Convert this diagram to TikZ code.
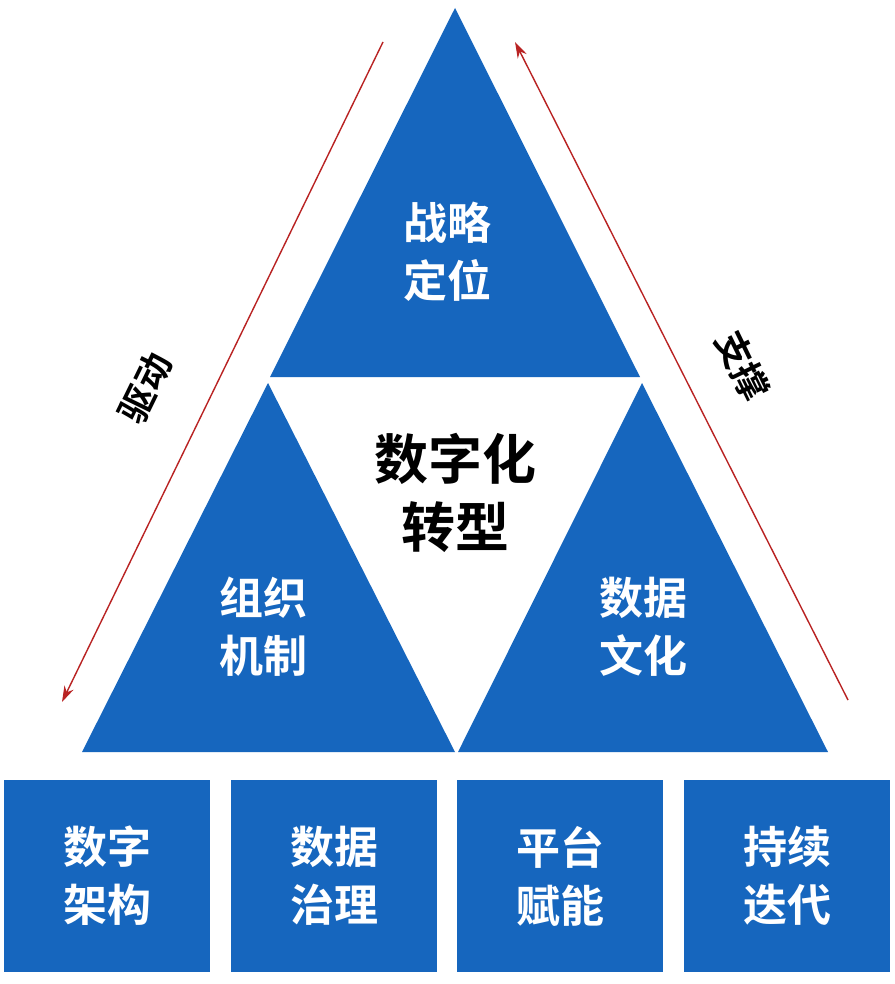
\documentclass[tikz,border=0pt]{standalone}
\usepackage{fontspec}
\newfontfamily\cjk{Noto Sans CJK SC}[BoldFont={Noto Sans CJK SC Bold}]
\usetikzlibrary{arrows.meta}
\definecolor{tblue}{RGB}{22,102,190}
\definecolor{tred}{RGB}{185,35,35}
\begin{document}
\begin{tikzpicture}[x=1pt,y=-1pt,
  tri/.style={fill=tblue,draw=none},
  lbl/.style={text=white,font=\cjk\bfseries\fontsize{44}{58}\selectfont,align=center},
  box/.style={fill=tblue,draw=none,minimum width=206pt,minimum height=192pt,inner sep=0pt},
  side/.style={font=\cjk\bfseries\fontsize{36}{40}\selectfont},
  arr/.style={draw=tred,line width=1.4pt,-{Stealth[length=16pt,width=10pt]}}]
\useasboundingbox (0,0) rectangle (894,984);
\fill[white] (0,0) rectangle (894,984);
\fill[tri] (455,8) -- (640,377) -- (270,377) -- cycle;
\fill[tri] (268,383) -- (455,752) -- (82,752) -- cycle;
\fill[tri] (642,383) -- (828,752) -- (458,752) -- cycle;
\node[lbl] (t1) at (447,252) {战略\\定位};
\node[lbl] (t2) at (263,627) {组织\\机制};
\node[lbl] (t3) at (643,627) {数据\\文化};
\node[font=\cjk\bfseries\fontsize{54}{68}\selectfont,align=center] (c) at (455,493) {数字化\\转型};
\node[box] (b1) at (107,876) {}; \node[lbl] at (b1) {数字\\架构};
\node[box] (b2) at (334,876) {}; \node[lbl] at (b2) {数据\\治理};
\node[box] (b3) at (560,876) {}; \node[lbl] at (b3) {平台\\赋能};
\node[box] (b4) at (787,876) {}; \node[lbl] at (b4) {持续\\迭代};
\coordinate (l1) at (383,42); \coordinate (l2) at (62,702);
\coordinate (r1) at (848,700); \coordinate (r2) at (515,42);
\draw[arr] (l1) -- (l2);
\draw[arr] (r1) -- (r2);
\node[side,rotate=64,inner sep=0pt] (d) at (145,388) {驱动};
\node[side,rotate=-64,inner sep=0pt] (s) at (743,366) {支撑};
\end{tikzpicture}
\end{document}
